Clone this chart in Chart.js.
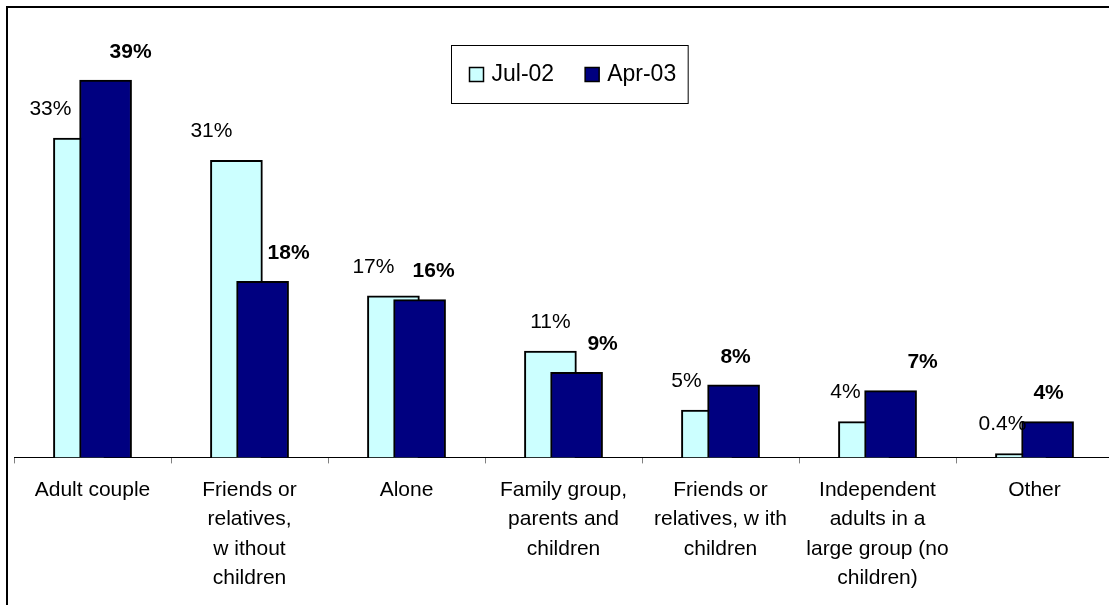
<!DOCTYPE html>
<html>
<head>
<meta charset="utf-8">
<script src="https://cdn.jsdelivr.net/npm/chart.js@4/dist/chart.umd.min.js"></script>
<style>
    html, body { margin: 0; padding: 0; background: #fff; overflow: hidden; }
    .frame { position: absolute; left: 6px; top: 6px; width: 1200px; height: 700px; border-left: 2px solid #000; border-top: 2px solid #000; }
    .wrap { position: absolute; left: 0; top: 0; width: 1120px; height: 605px; }
</style>
</head>
<body>
<div class="frame"></div>
<div class="wrap"><canvas id="chart"></canvas></div>
<script>
const categories = [
    'Adult couple',
    ['Friends or', 'relatives,', 'w ithout', 'children'],
    'Alone',
    ['Family group,', 'parents and', 'children'],
    ['Friends or', 'relatives, w ith', 'children'],
    ['Independent', 'adults in a', 'large group (no', 'children)'],
    'Other'
];
const seriesNames = ['Jul-02', 'Apr-03'];
const jul02 = [33, 30.7, 16.7, 11, 4.9, 3.7, 0.4];
const apr03 = [39, 18.2, 16.3, 8.8, 7.5, 6.9, 3.7];

// hand-placed label nudges (px), like the original sheet
const julLabelDx = [-3, 1, 6, 26, 5, 7, 7];
const aprLabelDx = [-1, 0, -12, 0, -24, 6, -25];

const FONT = "'Liberation Sans', Arial, sans-serif";
const fmtPct = (v) => (v < 1 ? v.toFixed(1) : Math.round(v)) + '%';

const barLabels = {
    id: 'barLabels',
    afterDatasetsDraw(chart) {
        const ctx = chart.ctx;
        ctx.save();
        ctx.fillStyle = '#000';
        ctx.textAlign = 'center';
        ctx.textBaseline = 'middle';
        chart.data.datasets.forEach((ds, di) => {
            const meta = chart.getDatasetMeta(di);
            ctx.font = (di === 1 ? 'bold ' : '') + '21px ' + FONT;
            meta.data.forEach((bar, i) => {
                const { x, y, width } = bar.getProps(['x', 'y', 'width'], true);
                const lx = di === 0 ? x - width / 2 + julLabelDx[i] : x + width / 2 + aprLabelDx[i];
                ctx.fillText(fmtPct(ds.data[i].y), lx, y - (di === 0 ? 29 : 28));
            });
        });
        ctx.restore();
    }
};

const boxLegend = {
    id: 'boxLegend',
    afterDraw(chart) {
        const ctx = chart.ctx;
        const area = chart.chartArea;
        ctx.save();
        ctx.font = '23px ' + FONT;
        const widths = chart.data.datasets.map(ds => ctx.measureText(ds.label).width);
        const padL = 18, padR = 12, sq = 14, gap = 8, itemGap = 31;
        const boxW = padL + widths.reduce((s, w) => s + sq + gap + w, 0) + itemGap * (widths.length - 1) + padR;
        const boxH = 58;
        const left = Math.round(area.left + area.width / 2 - boxW / 2 + 6) + 0.5;
        const top = area.top + 23.5;
        ctx.strokeStyle = '#000';
        ctx.lineWidth = 1;
        ctx.strokeRect(left, top, boxW, boxH);
        const cy = top + boxH / 2;
        let x = left + padL;
        chart.data.datasets.forEach((ds, i) => {
            ctx.fillStyle = ds.backgroundColor;
            ctx.fillRect(x, cy - sq / 2, sq, sq);
            ctx.lineWidth = 1.5;
            ctx.strokeRect(x, cy - sq / 2, sq, sq);
            ctx.fillStyle = '#000';
            ctx.textBaseline = 'middle';
            ctx.fillText(ds.label, x + sq + gap, cy);
            x += sq + gap + widths[i] + itemGap;
        });
        ctx.restore();
    }
};

const offsetPoints = (vals, shift) => vals.map((v, i) => ({ x: i + shift, y: v }));

new Chart(document.getElementById('chart'), {
    type: 'bar',
    data: {
        labels: categories,
        datasets: [
            { label: seriesNames[0], data: offsetPoints(jul02, -1 / 12), backgroundColor: '#CCFFFF', order: 2 },
            { label: seriesNames[1], data: offsetPoints(apr03, 1 / 12), backgroundColor: '#000080', order: 1 }
        ].map(ds => ({ ...ds, xAxisID: 'xb', grouped: false, barThickness: 52, borderColor: '#000', borderWidth: 2 }))
    },
    options: {
        responsive: true,
        maintainAspectRatio: false,
        animation: false,
        layout: { padding: { left: 14, right: 7, top: 22, bottom: 0 } },
        plugins: { legend: { display: false }, tooltip: { enabled: false } },
        scales: {
            x: {
                type: 'category',
                offset: true,
                grid: { display: true, drawOnChartArea: false, offset: true, tickLength: 6, color: '#808080' },
                border: { display: true, color: '#000', width: 1 },
                ticks: { color: '#000', font: { family: FONT, size: 21, lineHeight: 1.4 }, padding: 12, autoSkip: false, maxRotation: 0 }
            },
            xb: { type: 'linear', min: -0.5, max: 6.5, offset: false, display: false },
            y: { min: 0, max: 45, display: false }
        }
    },
    plugins: [barLabels, boxLegend]
});
</script>
</body>
</html>
